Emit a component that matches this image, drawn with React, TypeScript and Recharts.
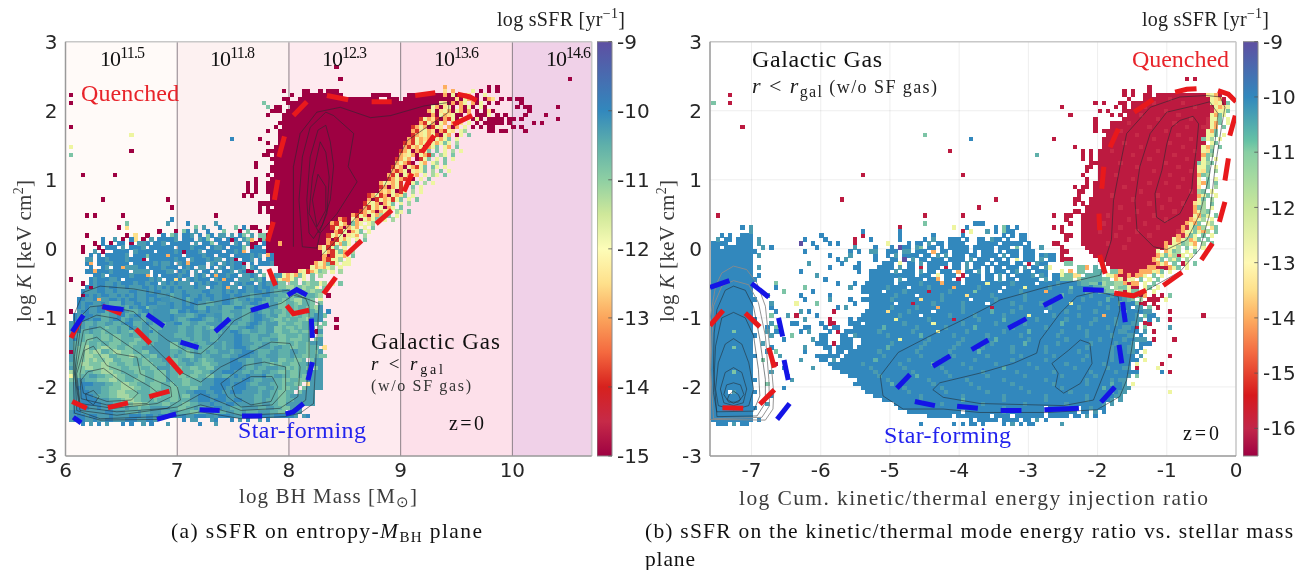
import { CartesianGrid, ComposedChart, ReferenceArea, ReferenceLine, Scatter, XAxis, YAxis } from 'recharts'

type Pts = number[][]

// cell colours, one letter per sSFR bin
const cellColors: Record<string, string> = {
  d: '#9e0142', e: '#bc1a40', f: '#c72a48', r: '#d8322a', o: '#fdae61', w: '#fee08b', y: '#eef5a0',
  h: '#a5d7a2', g: '#7cc4a6', a: '#5fb0aa', t: '#4a9bb0', c: '#3f93b5', b: '#3288bd', p: '#5e4fa2',
}

// rows of the 2d histograms, top to bottom. "@n" jumps to column n, "3b" is three cells of b,
// "." clears a cell, and later cells overwrite earlier ones
const leftCells = [
  '@66d', '', '', '@67d@124d', '', '@93o@104d.d',
  '@53d@58 2d@62 d.3d@93w.o@100y.d@104d.d',
  '@0d@55d@58 10d@75 5d@84 9dodyd.ow.d.y',
  '@53 2d@57 20d@79 3d@83 13dwdyoyd.dow.d.d.2d',
  '@0d@48g@54 38dywdodoy.ody.d.d@112d',
  '@49g.2d@55 35dyodwyd.odyd.yd@111d.2d@121d',
  '@50 3d@54 35doydwyodyodo.d.dwd@114d',
  '@49d@53 37dodyowy2d.o.3dy.d.d@113d@118d',
  '@53 34dryowrdorydyo.dyd.4d.2d.d@121d',
  '@52 35doryodyo.odw.y.d.5d.d@115d.d',
  '@0d@51d@53 32droyodryw.odo.y.d.d.2d@110d.d',
  '@49d@52 33dorwyowdoryw.yh@104 2d.2d@113d',
  '@15y@52 33drowyoyrdyo.dy.g',
  '@40b@47d@52 32doryowodyoyg.y',
  '@49d@52 31droryoydyoygy.h',
  '@0y@51d@52 31dorwoydoyg.yo.g',
  '@15d@49 2d@51 31droydoryg.g.y.h.y',
  '@0g@48 2d@51 31dowyodyorg.hy.g',
  '@50d@51 30droyo.dryg.y.g.y',
  '@46d@51 30doyord.yo.yh.g',
  '@46d@50 2d@52 28drwodyoryg.gy.y',
  '@50 3d@53 27doroydywyg.h.g.y',
  '@3d@11d@49d@51 28dorydyowo.y.hy.g',
  '@46d@50 29droyoryd.y.g',
  '@44d.d@49d@50 27doywoyr.dyg.h.y',
  '@44d.d@49 28drodoyry.g.y',
  '@44d.d@49 28dowoydry.h.y',
  '@43d.d@50 24droyrodyowg.y',
  '@8d@24d@50 24dodryowryg.y.g',
  '@47 3d@50 23drwyodoyg.y.h',
  '@25d@47d@49d.22doryoydoy.g',
  '@47d@49 23droyodoyw.hy.g',
  '@4d.d@13d@36d@50 20doryodyoh.g.y',
  '@25b@50 17dordyodyoyg.y.h',
  '@14g@24t@29b@36t@50 15doryodgoy.yh',
  '@12d.w@31g.t@37b@41g.b@45 2d@49 16dryodoyo.y.g',
  '@22d@26d.gb.t@34b@38g@42d.g@47d@50 16dorydoyg.y',
  '@4d@14d.w@19d@23b.gt.2bt.b.gb.2t.t.bg.t.2g@49 15dryoydwyo.h',
  '@8b@11t.d.bw.d.t.4bt.3b.tbg.2b.bdb.tgo.dg@49 15dodryoy.y.g',
  '@6d.b.d.2b.d.2tb.2bt.5b.t.2bg.3b.tb.t2d.b@49 3do@53 11doryogy.g',
  '@3d@7d.3b.t.3bt.6b.3bt3b.b2tb.3bg.d2b.d.b@49 13doyryg.y',
  '@3d@6t.d@11 4b.t4b.4btbd3bt.4b.2btbo.3b.ob.t@48b@49 14dyorygo.h',
  '@5b.b.5bt.3bg4bo3b.4bt2b.3b.4btbt.ob.2bt@51 12dodryyo.g',
  '@4 2t.2bt4bt3bd.6bt2b.t3btb2t.btd.2bt.b.2b@51 12doryyh.y',
  '@4bo.3bt4b.5btb2tb.tbo4b.tb.tbt2bd.b.3bt@51 10doyogry.yy',
  '@5b@8bt.2bo3t2b.3bt3b.btb.2t.b.tb.t2bt.tb@52 8dyowoyh.y',
  '@4 2bo3bt4b.4t.3b2t.btb.t.2b.t.2bt.tb2d.t@52 5dwyroygh.y.h',
  '@6 2bt.5bt3bo.b.4bt2b.tbt.bo2bt2b.2tbt.g.wt@51 2tyoyogy.g.h',
  '@0d@5bt3b2tb.6btbt.2bwb.tbt3b.tbo2b.3tgtab@50 2gy2oyg.y.g',
  '@3d.bt2b2tbt3bt2bt2b.t2b@25 tb3t.btbt2bt@38 2b.tbt2b.tb2t@50 tb2g.2g.gh2gyh.y.g',
  '@4bdt2bt2b2tb3t2btbtb2t@25 btb3tb2t.b3t@38 bo2t.b2tbt2b.t@50 2t2g2h2gh2gy.g',
  '@3b3t2b2tb3t2b2tbt2b3t@25 b2tb4t2b3t@38 btbt2b2t2bt2b@50 t2a2tg2a2gh2g',
  '@3dbtbt2b2tbtbtb2t3b2t@25 a2t2b2tbt2b3t@38 2bt2b2ta2t2bt@50 2t2a2g2ag2agh.d',
  '@2 2b2tbo2t2btbt2b2tbt2b@25 3tbat2b2tb3t@38 2bta2tbt2bta@50 t2agag2h2ag.y',
  '@2bt2b2tbt3ab2t2bt3b2t@25 b2tbt2b2t2a2t@38 2bt2a2t2bt2a@50 2t2g2agh2ag.g',
  '@2btb2t2b2t2btabt2bg2t@25 b2t3bt2ab2t@38 3a2bt2at2bta@50 2t2g2ag2a2gh',
  '@0d.t2b2t2ba2t2bt2at2bt@25 2a2bt2b2tb3t@38 2a3t2atbt2a@50 t2ag2ag2h2ag@64b',
  '@1b2t2b2t2a2t2bat2ba2t@25 b3t2at2b2t@38 3a2t2at2bta@50 2t2ga2ga2ga@63g',
  '@1bt2bt2b2at2batb2ta2t@25 bt2at3bt2at@38 2a3t2at2b2t@50 a2gag2a2gh@66d',
  '2tbt2at2a2t2at2b2atbt3a@25 t2b2a2t2a2t@38 2a2t2at2bta@50 2t2g2a2g2a2g.g',
  't2bta2t2ag2at2abta2t3a@25 2t2a2t2atag@38 2t2a2t2bt2a@50 t2ga2gag2ag.g@66d',
  '2tb2at2ag3at2ag2a2tba@25 2t2a2t2a2t3a@38 2t2bt2a2t2a@50 t2g2a2ga2g.d',
  '2t2a2g2a2ga2g2at2a2t2a@25 t3a2t2a2t2a@38 3t2b2t2a2t@50 2a2g3ag2ag.g',
  'tb2a2g2a2ga2g3a2gat2a@25 3t2at2a2t2a@38 3t2b2t2at2a@50 2t2ga3g2a.g',
  't2a2g2ag2a3g2a2g2ata@25 2g2t2at2a3t@38 a2t2b3t2a2t@50 2a2g2ag2ag',
  'ta2gh2ag2h2g2a2g2a2t@25 2gat2a2t3a2t@38 a2t3bt2a2t@50 a2t2a2g2ag2a.w',
  'da2ghg2h2ag2h3g2a2g@25 2atagat2at2a@38 2ta2t3bt3a@50 2t3a2t2agag',
  'ta2g2h2g2h2a3gh2g2a2g@25 at2a2g2t2a3t@38 2a2t3b2t2a@50 2t3at2a2g2a2g',
  'ta2ghgh2g2h2a3g2a2g3a@25 2ga2tatag2a@38 2t2b2t2a2t2a@50 2t2g2a2ga.g',
  '2ag2h3g2h2g2a2g2a3g3a@25 2g2a2t2a2g2a@38 2t3bt2a2t2a@50 gag2a2g2a',
  'ta2g2h2g2h3g2a3g2a2g@25 a2g2a2g2a2g@38 2t3bt2at2a@50 2t2agag2ag.g',
  'ha2g2a2g3h2g3a3g2a3g@25 2ag3a2g2a2t@38 3b2t2at2a@48 2t2a2ga2g2a',
  'yag2a2t2a2gh2g3a2g2a3g@25 2a2ga2g2a2g@38 2atb2tb3tbt@49 2a2t2a2ga2g',
  'ga2t3a3g2h2g2a3g2a3g@25 3a2g3a2t@36 4b3t2bt2a@49 2t2a2g2a2g',
  'a2t3b3t2a2g2h2g3a3g2a@25 g2a2g3a2t@36 4bt3bt2a@48 2t3ag2a2g.w',
  'at2b4t2a3g3h2g2a3g2a@25 2g3a2g2t@35 4b2t3bt@47 2a2t2a2g2a.g',
  'a2t2b3t2a2g2h3g3a2g3a@25 2g2a2t3bt@36 2b2t3bt@47 a2t2a2g2a.g',
  'a2t3bt3a2g3h3g2a3g2a@25 2ga2g2t3b@35 2t2b4t@46 2a2t2a2ga',
  'a2t4b3t3ag2h2g3ag3a@25 2g3a2t3bt@36 3b2t2bt@46 2at3a2g2a',
  'a2t5b3t3a2g2h2g3a3g@25 3a2g2a3t2b@36 3t2b2t@46 2a2t2a2g',
  'at3b2tb3t3at2ag2a3t@25 2a2g2at2a3t@36 2b2t3a@44 3t2a2t2a2g',
  't2b6t2b3t3at2a3t2a@25 2t3a2g2a2t@36 3a2t2at3a@48 2t2a2g.g',
  '2t2bt2b3tb4t3bt2bt2bt@28b2t3b@36 t3b@41 2t2b2t@48 2bt5bt.tb',
  't3b2tb2t2b3t3b2t2bt@28b.2t@35 tb@40 b.t.b@47 t.b',
  '@3b.t.b.t@13b.b@18t.b@24t@32b@36t',
]

// filled stretches under the left rows, so the body has no gaps: first row, last row, first col, last col, letter
const leftBodyFill = [
  [54, 57, 4, 62, 'c'], [58, 60, 2, 62, 'c'], [61, 63, 1, 62, 'c'], [64, 80, 0, 62, 't'], [81, 84, 0, 60, 't'], [85, 86, 0, 57, 't'], [87, 87, 0, 54, 'c'],
] as [number, number, number, number, string][]

const rightCells = [
  '', '', '', '@114e.e', '', '@105e', '@99e.e@105e',
  '@4e@99e.e@104 2e@107 12e@119 wyoe',
  '@100e@104 16e@120 ywoe@110f',
  '@0g@4e@92e.e@98 2e@101 19e@120 ywyeg@106f@113f',
  '@84e@97e.e@101 19e@120 fyowy@104f@116f',
  '@93e.e@99 3e@102 18e@120 fw2yg@109f',
  '@86e@96e.e@100 20e@120 yogy@103f@112f',
  '@92e@99 2e@101 19e@119 f2yg.y@107f@115f',
  '@92e@96 23e@119 fyog.y@100f@111f',
  '@7e@92e@96 22e@118 2fyo.g@105f@114f',
  '@92e.e@95 23e@118 eyog@98f@109f',
  '@51g@95 23e@118 e2yg.y@102f@112f',
  '@62b@82e@94 24e@118 gyh.y@106f@115f',
  '@94 24e@118 e.yg@99f@110f',
  '@87e@94 24e@118 yoh.g@103f@113f',
  '@57e@89e.e.e@94 24e@118 ywg@96f@107f@116f',
  '@78a@89e.e@93 25e@118 ogh@101f@111f',
  '@89e.e.e@93 25e@118 yg.y@105f@114f',
  '@91 2e@93 24e@117 gyhg@98f@109f',
  '@90 2e.e@93 24e@117 2yg.y@102f@112f',
  '@90e@93 24e@117 ywg.h@106f@115f',
  '@36e@60e@89e@93 24e@117 ogh@97f@110f',
  '@90e@93 24e@117 y.g.y@101f@113f',
  '@90e@92 25e@117 yog.g@105f@109f',
  '@87e@89 2e@92 25e@117 w.g.h@99f@112f',
  '@88 2e@92 25e@117 hg.y@103f@115f',
  '@88e@92 25e@117 oyg.y@96f@107f',
  '@31e@68e@87 2e@91 26e@117 yg.h@101f@110f',
  '@87e.e@91 25e@116 wyh.g@105f@113f',
  '@64e@90 26e@116 ogh.y@98f@108f',
  '@87 2e@90 26e@116 oyhg@102f@111f',
  '@1e@51e@60e@82e@85 2e@89 27e@116 yogy.g@95f@106f',
  '@85e@89 26e@115 owyh.y@100f@109f',
  '@51g@63 3b@86e@89 25e@114 oyog.yh@94f@104f',
  '@7b.t@45e@58y@61b@68b.gb.b@82e.e@89 24e@113 ofygoh.wg@98f@107f',
  '@9t@36b@45b@60e.y@66t.b.g2b@84e@89 23e@112 fo2ygyoh.g@93f@102f',
  '@2b.b@7 3b@26b@36e@45b@53b@60b@70b.b.2b@85 2e@89 22e@111 eofwgy.g.y@97f@105f',
  '@1t@3 2b.b@6 4b.t@22b@27b@34e@38b@45b@51b.t@57 3b.b@64 2b.t2b.b@74 2b@85e@89 21e@110 eyoyhoyg.g@100f',
  '@0 4b@6 4b@11t@21p@24b@28b.b@34e@42y@47b@49 2b.t@54 2b@57 4b@64 5b.2b@72 3b.b@82 2e@89 20e@109 oeywghyo.h.g@95f',
  '@0 2b.2b@5 5b@12t.b@25b@34t@39b@43b.p@46 2b.tg.2b.t@55b.5b.b@63 5b.3b.g.2b@79t@84e@90 18e@108 eo2yh.g.y.y@99f',
  '@0 11b@22b@33b.b@38 2t@42 3b.2t.3b.o.2b.4b.b.3b.b.3b.t@75 3b@84 2e@91 16e@107 y.oygh.y.g',
  '@0 10b.t@28b@33t@39b@42b.t.4b.2b.t.t.3b.2b.4b.t.2b.3b.b.2b@80t@84e@92 14e@106 eoygwhey.y',
  '@0 10b@30b.t@39b@43 2b.p.t.2b.3b.4b.t.3b.2b.b.y.3b.t.2b.e@85 2e@93 12e@105 eoyg.hyg.h',
  '@0 10b@23t@31b@35b@41 3b.y.2b.t.5b.2b.t.3b.b.3b.2b.e.t2b@85 2g@95 9e@104 3eoyo.g.ey.g',
  '@0 10b.t@28b@34 2b@40 4b.t.2b.e.3b.e.2b.t.2b.b.2b.3b.t.2b.ty@88 2go.a.g@96 9e@105 2o3eoyg.y',
  '@0 10b@21b@35b@38 5b.t.3b.t.2b.3b.o.2b.t.b.3b.bt.2b.3b@84y@86o.2g@92 2a@96 2go4e3oywg.y',
  '@0 10b.b@25t@38 11b.3b.y.3b.e.3b.2b.t.b.4bt.tb.2by@85 2g2w.2a@92 2a.2yo2eoe2oy.g.y',
  '@0 11b@27b@38 6b.t.4b.2bo.2b.e.4b.2b.t.2b.5b.t.2bg@84 3g.h2a@91 3a2g.oye2y.g.y.g',
  '@0 10b@15g@30b@34b@37 58b@44.@50t@55o@60.@66y@72t@78.@83t@88 t2a2g@94 h2g2hoe2o.y.g',
  '@0 10b@15b@22g@33t@36 60b@42t@47.@52t@58o@64t@70.@75y@81t@86g@92 2a2g.h2gy2e.yg.y',
  '@0 10b@17g@24b@36 62b@41.@46t@52e@57t@63g@69.@74t@80o@86t@90 2a@93 2a2g.2h@99 ey2g.w.y',
  '@0 10b@13t@21b@28b@38 62b@44t@49.@55t@61w@67t@75t@84a@91t@96t@99 2a2g@103 eo.e.e.g',
  '@0 11b@22b@28t@33b@36 67b@43t@50w@55t@62.@68t@75t@82.@89t@95a@99 tag.h@105 e2e.y',
  '@0 10b@14t@20y@25g@34b@38 65b@44.@48e@53t@60t@66.@72t@79t@86y@93t@98a@102 g2e.e',
  '@0 10b@14b@30b.t@38 65b@43t@49t@54o@60t@67e@74t@81t@88t@95t@100 b.t@103 t.g.e',
  '@0 10b@15b@21t.b@29e@37 66b@42w@47t@53.@60t@67a@72t@80.@85t@92t@99g@103 b2t@110e',
  '@0 10b@14g@18t.e@25b@36 66b@45t@50.@57t@63t@70t@76y@82t@88t@94o@102 t.g2b@118e',
  '@0 11b@22t@28e@33b.2b@37 65b@44y@52t@58e@64t@70a@78t@85t@92t@97t@102 2t.b.t@110e',
  '@0 10b@14t.y@19 2b@26b.2e@33 3b@37 64b@46t@53y@60t@68t@75t@84a@91t@97t@101 2t.2e',
  '@0 10b@13b.g@22 2b@27b.2b@34 68b@41a@49t@56t@63a@72t@80t@88t@95t@99 2t@102 e.g@110t',
  '@0 5bg4b@13t.2b@21b.t@28b.e@32 70b@40t@48t@54y@61t@70t@76a@84t@90t@98 2t@101 2b.t.e',
  '@0 11b@14t@19g@26 2b@31 2b.t@35 67b@42t@50a@58t@66t@74t@83t@90t@96t@100 2t.b',
  '@0 10b@17b@24t.2b@31 3b@36 66b@45y@52t@60t@68a@76t@85t@93t@99t@102 3t.e@111e',
  '@0 10b@12t@25 3b.e.3b@36 65b@43t@51t@59t@67t@75a@83t@91t@97t@101 t.3b',
  '@0 5bg4b@14b@22t@27 2b.4b@35 65b@42a@50t@58t@65t@72t@80t@90t@96t@100 2t.b',
  '@0 10b@13b.g@22b@28b.2b.70b@40t@49t@57t@64a@72t@80t@88t@96t@100 2t@104y',
  '@0 11b@16t@25 6b.2b@34 67b@41t@50t@58t@66t@74t@82t@90t@96t@99 3b.t@110e',
  '@0 10b@12g@21t@26 2b.t@31 72b@39a@47t@55t@63t@72t@80t@89t@96t@101 2b.y',
  '@0 10b@15e@28 75b@36t@45t@53a@60t@68t@76t@85t@94t@100 b.y@108e',
  '@0 10b@17b@24t@29 73b@38t@46t@55t@62t@70a@78t@87t@95t@99 2t.e@107y',
  '@0 5bg4b@14t@31 72b@39t@48t@56t@65t@73t@82t@91t@97t@108 b.e',
  '@0 10b@18t@33 69b@40t@49a@57t@66t@75t@84t@92t@100 t.g',
  '@0 11b@19t@35 65b@42t@52t@61t@70t@80t@90t@96t@98 2t',
  '@0 10b@13g@34 67b@43a@53t@62t@72t@82t@90t@96a@99 t.y',
  '@0 10b@17b@36 65b@46t@55t@64t@74t@84t@94a@99 2t',
  '@0 4b.t5b@37 63b@47t@56t@66t@76t@86t@96a@98 2t@110y',
  '@0 10b@14b@39 60b@50t@60t@70t@80t@90t@97 2t',
  '@0 10b@41 57b@50t@60a@70t@80t@90t@96t.t',
  '@0 10b@13t@44 52b@55t@65t@75t@85t@94t.t',
  '@0 11b@45 50b@60t@70t@80.@88.@91t',
  '@0 10b@47 45b@60.@70t@80.@88.@91.t.b',
  '@0 10b@52 6b.8b.4b.7b.5b.2b.t.b',
  '@0 10b.b@62b.5b.4b.2b.t.b',
  '@1 3b.t.2b@50b@58b.b.2b.b@70b.t.b.2b@84t',
]

const leftContours: Pts[] = [
  [[6.08, -2.38], [6.31, -2.48], [6.82, -2.47], [7.21, -2.36], [7.57, -2.46], [7.96, -2.43], [8.1, -2.38], [8.22, -2.24], [8.25, -1.32], [8.27, -0.79], [8.12, -0.7], [7.99, -0.6], [7.66, -0.67], [7.33, -0.77], [7.18, -0.81], [6.91, -0.67], [6.61, -0.58], [6.31, -0.54], [6.16, -0.63], [6.08, -0.94], [6.07, -1.81], [6.08, -2.38]],
  [[6.13, -0.99], [6.22, -0.84], [6.34, -0.82], [6.61, -0.91], [6.76, -1.13], [6.91, -1.32], [7.09, -1.49], [7.21, -1.52], [7.36, -1.32], [7.51, -1.04], [7.69, -0.89], [7.93, -0.79], [8.04, -0.67], [8.15, -0.72], [8.18, -0.84], [8.18, -1.56], [8.15, -2.19], [7.99, -2.38], [7.57, -2.41], [7.21, -2.26], [6.85, -2.43], [6.31, -2.46], [6.1, -2.34], [6.08, -1.56], [6.13, -0.99]],
  [[6.14, -1.06], [6.28, -0.96], [6.46, -1.01], [6.67, -1.23], [6.85, -1.52], [7.0, -1.76], [7.21, -1.93], [7.39, -1.71], [7.63, -1.52], [7.84, -1.35], [8.01, -1.37], [8.1, -1.71], [8.08, -2.14], [7.92, -2.31], [7.57, -2.34], [7.21, -2.1], [7.0, -2.29], [6.46, -2.41], [6.13, -2.34], [6.08, -1.81], [6.14, -1.06]],
  [[6.16, -1.18], [6.31, -1.13], [6.49, -1.32], [6.67, -1.52], [6.82, -1.73], [7.0, -2.0], [7.03, -2.19], [6.91, -2.31], [6.46, -2.36], [6.13, -2.29], [6.09, -1.81], [6.16, -1.18]],
  [[6.19, -1.32], [6.28, -1.28], [6.46, -1.52], [6.64, -1.57], [6.67, -1.81], [6.94, -2.0], [6.95, -2.14], [6.82, -2.24], [6.43, -2.31], [6.13, -2.24], [6.1, -1.81], [6.19, -1.32]],
  [[6.17, -1.47], [6.25, -1.41], [6.37, -1.69], [6.52, -1.78], [6.76, -2.0], [6.83, -2.09], [6.73, -2.24], [6.37, -2.26], [6.14, -2.17], [6.13, -1.81], [6.17, -1.47]],
  [[6.2, -1.78], [6.34, -1.73], [6.52, -1.95], [6.65, -2.09], [6.59, -2.19], [6.37, -2.21], [6.16, -2.09], [6.14, -1.9], [6.2, -1.78]],
  [[6.25, -2.05], [6.3, -2.14], [6.25, -2.26], [6.19, -2.19], [6.18, -2.1], [6.25, -2.05]],
  [[7.49, -2.0], [7.66, -1.85], [7.85, -1.85], [7.9, -2.0], [7.84, -2.21], [7.66, -2.26], [7.52, -2.14], [7.49, -2.0]],
  [[7.39, -1.95], [7.6, -1.69], [7.78, -1.64], [7.97, -1.71], [7.97, -2.05], [7.85, -2.26], [7.57, -2.29], [7.45, -2.14], [7.39, -1.95]],
  [[8.04, 0.03], [8.04, 1.19], [8.1, 1.67], [8.25, 1.98], [8.46, 2.05], [8.73, 1.9], [8.91, 1.93], [9.21, 2.07], [9.43, 2.12], [9.43, 1.98], [9.06, 1.57], [8.85, 0.9], [8.58, 0.42], [8.4, 0.08], [8.28, -0.11]],
  [[8.12, 0.03], [8.09, 0.71], [8.12, 1.33], [8.19, 1.76], [8.33, 1.98], [8.4, 1.93], [8.58, 1.67], [8.53, 1.19], [8.61, 0.97], [8.43, 0.51], [8.28, 0.23], [8.25, 0.01], [8.12, 0.03]],
  [[8.18, 0.23], [8.16, 0.71], [8.19, 1.33], [8.26, 1.72], [8.33, 1.79], [8.37, 1.55], [8.4, 1.2], [8.37, 0.71], [8.3, 0.35], [8.22, 0.15], [8.18, 0.23]],
  [[8.28, 1.55], [8.21, 1.04], [8.18, 0.51], [8.27, 0.23], [8.34, 0.51], [8.36, 1.04], [8.33, 1.4], [8.28, 1.55]],
  [[8.26, 1.08], [8.21, 0.71], [8.25, 0.32], [8.33, 0.56], [8.33, 0.9], [8.26, 1.08]],
]

const rightContours: Pts[] = [
  [[-0.23, 2.2], [-0.16, 2.05], [-0.21, 1.76], [-0.3, 1.19], [-0.38, 0.51], [-0.52, 0], [-0.81, -0.33], [-1.29, -0.6], [-1.37, -0.69], [-1.48, -1.27], [-1.58, -1.9], [-1.68, -2.14], [-2.01, -2.33], [-2.73, -2.37], [-3.7, -2.37], [-4.23, -2.32], [-4.81, -2.32], [-5.1, -2.13], [-5.14, -1.84], [-4.88, -1.5], [-4.38, -1.24], [-3.85, -0.98], [-3.56, -0.83], [-3.41, -0.74], [-2.73, -0.55], [-2.25, -0.45], [-1.96, -0.38], [-1.8, 0.13], [-1.77, 0.7], [-1.65, 1.33], [-1.58, 1.67], [-1.24, 2.05], [-0.81, 2.2], [-0.42, 2.22], [-0.23, 2.2]],
  [[-0.57, 2.08], [-1, 1.98], [-1.24, 1.67], [-1.39, 1.19], [-1.46, 0.7], [-1.43, 0.27], [-1.19, 0.03], [-1, -0.01], [-0.71, 0.13], [-0.52, 0.51], [-0.38, 1.09], [-0.3, 1.57], [-0.26, 1.96], [-0.38, 2.13], [-0.57, 2.08]],
  [[-0.81, 1.86], [-0.62, 1.92], [-0.54, 1.81], [-0.57, 1.47], [-0.62, 1.09], [-0.64, 0.85], [-0.81, 0.51], [-1.03, 0.38], [-1.15, 0.46], [-1.17, 0.8], [-1.07, 1.14], [-1, 1.52], [-0.93, 1.76], [-0.81, 1.86]],
  [[-3.7, -1.8], [-3.22, -1.66], [-2.88, -1.51], [-2.83, -1.32], [-2.54, -0.93], [-2.3, -0.69], [-2.01, -0.62], [-1.7, -0.69], [-1.68, -0.89], [-1.77, -1.22], [-1.87, -1.71], [-2.06, -2.19], [-2.49, -2.27], [-3.7, -2.24], [-4.23, -2.15], [-4.38, -2.04], [-4.28, -1.94], [-3.7, -1.8]],
  [[-2.66, -1.66], [-2.57, -1.8], [-2.61, -2.0], [-2.49, -2.09], [-2.25, -1.95], [-2.08, -1.66], [-2.11, -1.37], [-2.25, -1.32], [-2.42, -1.47], [-2.66, -1.66]],
  [[-7.5, -0.88], [-7.38, -0.6], [-7.26, -0.54], [-7.09, -0.6], [-6.97, -0.84], [-6.88, -1.31], [-6.8, -1.89], [-6.8, -2.23], [-6.92, -2.42], [-7.5, -2.43], [-7.55, -1.75], [-7.54, -1.22], [-7.5, -0.88]],
  [[-7.43, -1.0], [-7.26, -0.92], [-7.09, -1.0], [-6.97, -1.26], [-6.9, -1.75], [-6.88, -2.13], [-6.97, -2.35], [-7.5, -2.36], [-7.55, -2.08], [-7.52, -1.41], [-7.43, -1.0]],
  [[-7.38, -1.38], [-7.26, -1.3], [-7.14, -1.38], [-7.04, -1.65], [-6.97, -2.03], [-7.04, -2.27], [-7.26, -2.33], [-7.48, -2.27], [-7.52, -2.03], [-7.48, -1.65], [-7.38, -1.38]],
  [[-7.38, -1.79], [-7.26, -1.72], [-7.14, -1.79], [-7.07, -2.03], [-7.12, -2.23], [-7.26, -2.27], [-7.4, -2.23], [-7.45, -2.03], [-7.38, -1.79]],
  [[-7.36, -1.97], [-7.26, -1.94], [-7.16, -1.97], [-7.11, -2.11], [-7.19, -2.22], [-7.33, -2.22], [-7.4, -2.11], [-7.36, -1.97]],
  [[-7.32, -2.11], [-7.26, -2.06], [-7.19, -2.11], [-7.16, -2.18], [-7.26, -2.24], [-7.35, -2.18], [-7.32, -2.11]],
]

const rightGrayContours: Pts[] = [
  [[-7.6, -2.47], [-7.6, -1.02], [-7.52, -0.54], [-7.43, -0.35], [-7.26, -0.25], [-7.07, -0.3], [-6.92, -0.5], [-6.8, -0.83], [-6.73, -1.5], [-6.68, -2.08], [-6.69, -2.32], [-6.8, -2.48], [-7.6, -2.47]],
  [[-7.55, -0.83], [-7.43, -0.54], [-7.26, -0.46], [-7.04, -0.52], [-6.9, -0.78], [-6.8, -1.26], [-6.75, -1.89], [-6.74, -2.27], [-6.85, -2.44], [-7.55, -2.46], [-7.59, -1.75], [-7.55, -0.83]],
]

const leftBlueDashes: Pts[] = [
  [[6.07, -2.44], [6.14, -2.52]], [[6.82, -2.47], [6.99, -2.39]], [[7.2, -2.33], [7.38, -2.34]], [[7.58, -2.42], [7.76, -2.42]],
  [[7.97, -2.39], [8.04, -2.36], [8.13, -2.24]], [[8.17, -1.9], [8.21, -1.64]], [[8.21, -1.29], [8.2, -1.01]],
  [[8.16, -0.67], [8.07, -0.59], [7.99, -0.67]], [[7.82, -0.81], [7.66, -0.89]], [[7.47, -1.01], [7.34, -1.2]],
  [[7.19, -1.43], [7.03, -1.35]], [[6.88, -1.12], [6.73, -0.95]], [[6.52, -0.88], [6.33, -0.84]], [[6.16, -0.96], [6.06, -1.2]],
]

const leftRedDashes: Pts[] = [
  [[6.05, -1.29], [6.13, -1.04]], [[6.33, -0.83], [6.5, -0.94]], [[6.63, -1.16], [6.76, -1.37]], [[6.91, -1.57], [7.04, -1.81]],
  [[6.93, -2.06], [6.75, -2.14]], [[6.56, -2.23], [6.38, -2.3]], [[6.19, -2.31], [6.06, -2.21]],
  [[7.98, -0.82], [8.04, -0.94], [8.18, -0.89]], [[7.88, -0.53], [7.82, -0.29]], [[7.81, 0.11], [7.86, 0.39]], [[7.87, 0.71], [7.9, 1.0]],
  [[7.91, 1.33], [7.96, 1.63]], [[8.04, 1.93], [8.16, 2.13]], [[8.34, 2.22], [8.53, 2.16]], [[8.74, 2.13], [8.92, 2.13]],
  [[9.13, 2.22], [9.31, 2.26]], [[9.51, 2.24], [9.62, 2.2], [9.68, 2.15]], [[9.64, 1.93], [9.47, 1.8]], [[9.3, 1.64], [9.19, 1.4]],
  [[9.1, 1.09], [9.03, 0.83]], [[8.92, 0.56], [8.78, 0.36]], [[8.65, 0.12], [8.51, -0.09]], [[8.42, -0.41], [8.31, -0.65]],
]

const rightRedDashes: Pts[] = [
  [[-0.88, 2.27], [-0.71, 2.31], [-0.57, 2.32]], [[-0.26, 2.29], [-0.11, 2.24], [0, 2.13]], [[-0.01, 1.93], [-0.09, 1.64]], [[-0.11, 1.31], [-0.16, 0.99]],
  [[-0.16, 0.68], [-0.24, 0.39]], [[-0.34, 0.08], [-0.5, -0.16]], [[-0.78, -0.34], [-1.05, -0.53]], [[-1.3, -0.6], [-1.48, -0.68], [-1.76, -0.64]],
  [[-1.89, -0.36], [-1.97, -0.09]], [[-1.97, 0.27], [-1.98, 0.51]], [[-1.94, 0.87], [-1.91, 1.19]], [[-1.82, 1.47], [-1.7, 1.74]], [[-1.47, 1.98], [-1.2, 2.16]],
  [[-7.6, -1.11], [-7.41, -0.89]], [[-7.09, -0.93], [-6.88, -1.13]], [[-6.75, -1.43], [-6.67, -1.72]], [[-6.67, -2.04], [-6.88, -2.25]], [[-7.12, -2.31], [-7.42, -2.3]],
]

const rightBlueDashes: Pts[] = [
  [[-7.6, -0.56], [-7.32, -0.46]], [[-7.0, -0.5], [-6.75, -0.7]], [[-6.61, -1.0], [-6.55, -1.27]], [[-6.53, -1.61], [-6.47, -1.9]], [[-6.45, -2.24], [-6.63, -2.47]],
  [[-4.9, -2.02], [-4.71, -1.82]], [[-4.64, -2.21], [-4.35, -2.27]], [[-4.03, -2.28], [-3.73, -2.31]], [[-3.4, -2.34], [-3.1, -2.34]], [[-2.77, -2.33], [-2.27, -2.31]],
  [[-1.95, -2.22], [-1.75, -2.0]], [[-1.65, -1.66], [-1.69, -1.39]], [[-1.6, -1.06], [-1.64, -0.77]], [[-1.91, -0.6], [-2.21, -0.59]], [[-2.51, -0.68], [-2.78, -0.82]],
  [[-3.03, -1.01], [-3.29, -1.15]], [[-3.58, -1.32], [-3.82, -1.46]], [[-4.13, -1.55], [-4.38, -1.7]],
]

const leftBands = [[6, 7, '#fffaf8'], [7, 8, '#fdf1f1'], [8, 9, '#feeaef'], [9, 10, '#fde0ea'], [10, 10.71, '#f0d1e8']] as [number, number, string][]
const leftBandLines = [7, 8, 9, 10]
const yTicks = [-3, -2, -1, 0, 1, 2, 3]
const leftXTicks = [6, 7, 8, 9, 10]
const rightXTicks = [-7, -6, -5, -4, -3, -2, -1, 0]
const leftBarTicks = [-15, -14, -13, -12, -11, -10, -9]
const rightBarTicks = [-16, -15, -14, -13, -12, -11, -10, -9]
const leftBarStops = [[-9, '#5e4fa2'], [-10, '#3288bd'], [-10.5, '#5fb0aa'], [-11, '#8ecfa3'], [-11.5, '#cfe89a'], [-12, '#fdfdb8'], [-12.5, '#fee08b'], [-13, '#fba55c'], [-13.5, '#f4693f'], [-14, '#d7211e'], [-14.5, '#c62a48'], [-15, '#9e0142']] as [number, string][]
const rightBarStops = [[-9, '#5e4fa2'], [-10, '#3288bd'], [-10.8, '#66c2a5'], [-11, '#88cfa4'], [-12, '#c9e79b'], [-13, '#fff9b4'], [-13.5, '#fee08b'], [-14, '#fdae61'], [-14.6, '#f46d43'], [-15.4, '#d7191c'], [-16, '#c2274a'], [-16.5, '#9e0142']] as [number, string][]

const tickStyle = { fontFamily: 'DejaVu Sans', fontSize: 20, fill: '#262626' }
const serif = 'Liberation Serif'

// expand the run-length rows into one point list per colour
function decodeCells(rows: string[], x0: number, dx: number, y0: number, dy: number, fill: [number, number, number, number, string][] = []) {
  const groups: Record<string, { x: number; y: number }[]> = {}
  rows.forEach((row, r) => {
    const cols = new Map<number, string>()
    for (const [r0, r1, c0, c1, k] of fill) {
      if (r >= r0 && r <= r1) for (let c = c0; c <= c1; c++) cols.set(c, k)
    }
    let col = 0
    for (const m of row.matchAll(/@(\d+)|(\d*)([a-z.])/g)) {
      if (m[1]) {
        col = Number(m[1])
        continue
      }
      const n = m[2] ? Number(m[2]) : 1
      for (let i = 0; i < n; i++) cols.set(col + i, m[3])
      col += n
    }
    cols.forEach((k, c) => {
      if (k !== '.') (groups[k] ||= []).push({ x: x0 + c * dx, y: y0 - r * dy })
    })
  })
  return groups
}

const toXY = (pts: Pts) => pts.map(([x, y]) => ({ x, y }))
const Cell = (p: any) => <rect x={p.cx - 2.1} y={p.cy - 2.1} width={4.2} height={4.2} fill={p.fill} shapeRendering="crispEdges" />
const NoDot = () => null

function curve(pts: Pts, key: string, stroke: string, strokeWidth: number, opacity = 1) {
  return (
    <Scatter
      key={key}
      data={toXY(pts)}
      line={{ stroke, strokeWidth, strokeOpacity: opacity }}
      shape={NoDot}
      isAnimationActive={false}
    />
  )
}

function Panel(props: any) {
  const { left, width, yWidth, right, domain, xTicks, cells, contours, gray, red, blue, bands, lines } = props
  return (
    <div style={{ position: 'absolute', left, top: 0 }}>
      <ComposedChart width={width} height={500} margin={{ top: 41.7, right, left: 0, bottom: 14 }}>
        <XAxis type="number" dataKey="x" domain={domain} ticks={xTicks} allowDataOverflow interval={0} height={30} tickLine={false} tick={tickStyle} tickMargin={1} stroke="#9a9a9a" strokeWidth={1.5} />
        <YAxis type="number" dataKey="y" domain={[-3, 3]} ticks={yTicks} allowDataOverflow interval={0} width={yWidth} tickLine={false} tick={tickStyle} tickMargin={2} stroke="#9a9a9a" strokeWidth={1.5} />
        {bands?.map((b: [number, number, string]) => (
          <ReferenceArea key={b[0]} x1={b[0]} x2={b[1]} y1={-3} y2={3} fill={b[2]} fillOpacity={1} stroke="none" />
        ))}
        <CartesianGrid stroke="#000" strokeOpacity={0.07} />
        {lines?.map((x: number) => <ReferenceLine key={x} x={x} stroke="#8c8088" strokeWidth={1} />)}
        <ReferenceLine y={3} stroke="#c8c8c8" strokeWidth={1.5} />
        <ReferenceLine x={domain[1]} stroke="#c8c8c8" strokeWidth={1.5} />
        {Object.entries(cells).map(([k, pts]: any) => (
          <Scatter key={k} data={pts} fill={cellColors[k]} shape={Cell} isAnimationActive={false} />
        ))}
        {gray?.map((c: Pts, i: number) => curve(c, `g${i}`, '#8a8a8a', 0.9))}
        {contours.map((c: Pts, i: number) => curve(c, `c${i}`, '#222a2e', 0.8, 0.7))}
        {red.map((c: Pts, i: number) => curve(c, `r${i}`, '#e8191c', 5))}
        {blue.map((c: Pts, i: number) => curve(c, `b${i}`, '#1414e6', 5))}
      </ComposedChart>
    </div>
  )
}

function ColorBar({ left, id, domain, ticks, stops }: any) {
  const span = domain[1] - domain[0]
  return (
    <div style={{ position: 'absolute', left, top: 0 }}>
      <ComposedChart width={60} height={500} margin={{ top: 41.7, right: 0, left: 0, bottom: 44 }}>
        <defs>
          <linearGradient id={id} x1="0" y1="0" x2="0" y2="1">
            {stops.map(([v, c]: [number, string]) => <stop key={v} offset={(domain[1] - v) / span} stopColor={c} />)}
          </linearGradient>
        </defs>
        <XAxis type="number" dataKey="x" domain={[0, 1]} hide allowDataOverflow />
        <YAxis type="number" dataKey="y" orientation="right" domain={domain} ticks={ticks} interval={0} allowDataOverflow width={45} axisLine={false} tickLine={false} tickSize={0} tick={tickStyle} tickMargin={5} />
        <Scatter data={[{ x: 0, y: domain[0] }, { x: 1, y: domain[1] }]} shape={NoDot} isAnimationActive={false} />
        <ReferenceArea x1={0} x2={1} y1={domain[0]} y2={domain[1]} fill={`url(#${id})`} fillOpacity={1} stroke="#8a8a8a" strokeWidth={1} />
        {ticks.map((t: number) => <ReferenceLine key={t} segment={[{ x: 0.75, y: t }, { x: 1, y: t }]} stroke="#555" strokeWidth={0.8} />)}
      </ComposedChart>
    </div>
  )
}

// text squeezed to the width it has in the figure
function T({ x, y, w, size = 20, color = '#111', rotate, children }: any) {
  return (
    <text
      x={x}
      y={y}
      textLength={w}
      lengthAdjust="spacing"
      fontFamily={serif}
      fontSize={size}
      fill={color}
      transform={rotate ? `rotate(-90 ${x} ${y})` : undefined}
    >
      {children}
    </text>
  )
}

const Sup = ({ children, size = 14 }: any) => <tspan dy={-8} fontSize={size}>{children}</tspan>
const Sub = ({ children, size = 14 }: any) => <tspan dy={4} fontSize={size}>{children}</tspan>

const massLabels = [['11.5', 100], ['11.8', 210], ['12.3', 322], ['13.6', 434], ['14.6', 546]] as [string, number][]

function Labels() {
  const gray = '#3c3c3c'
  return (
    <svg width={1304} height={570} style={{ position: 'absolute', left: 0, top: 0, pointerEvents: 'none' }}>
      {massLabels.map(([m, x]) => (
        <T key={m} x={x} y={66} w={45} size={22}>10<Sup size={16}>{m}</Sup></T>
      ))}
      <T x={81} y={101} w={98} size={24} color="#e8232a">Quenched</T>
      <T x={371} y={349} w={129} size={23}>Galactic Gas</T>
      <T x={371} y={370} w={72} size={19}><tspan fontStyle="italic">r</tspan> &lt; <tspan fontStyle="italic">r</tspan><Sub size={14}>gal</Sub></T>
      <T x={371} y={391} w={100} size={16} color="#333">(w/o SF gas)</T>
      <T x={449} y={430} w={35} size={20}>z=0</T>
      <T x={238} y={438} w={128} size={24} color="#2222ee">Star-forming</T>
      <T x={239} y={503} w={178} size={21} color={gray}>log BH Mass [M<Sub size={15}>⊙</Sub><tspan dy={-4}>]</tspan></T>
      <T x={31} y={322} w={142} size={21} color={gray} rotate>log <tspan fontStyle="italic">K</tspan> [keV cm<Sup size={14}>2</Sup><tspan dy={8}>]</tspan></T>
      <T x={497} y={26} w={128} size={20} color="#222">log sSFR [yr<Sup size={14}>−1</Sup><tspan dy={8}>]</tspan></T>
      <T x={171} y={538} w={311} size={21.5}>(a) sSFR on entropy-<tspan fontStyle="italic">M</tspan><Sub size={15}>BH</Sub><tspan dy={-4}> plane</tspan></T>

      <T x={752} y={67} w={130} size={24}>Galactic Gas</T>
      <T x={752} y={93} w={185} size={22} color="#222"><tspan fontStyle="italic">r</tspan> &lt; <tspan fontStyle="italic">r</tspan><Sub size={16}>gal</Sub><tspan dy={-4} fontSize={18}>  (w/o SF gas)</tspan></T>
      <T x={1132} y={67} w={97} size={24} color="#e8232a">Quenched</T>
      <T x={884} y={443} w={127} size={24} color="#2222ee">Star-forming</T>
      <T x={1183} y={440} w={36} size={20}>z=0</T>
      <T x={739} y={505} w={469} size={21.5} color={gray}>log Cum. kinetic/thermal energy injection ratio</T>
      <T x={674} y={322} w={142} size={21} color={gray} rotate>log <tspan fontStyle="italic">K</tspan> [keV cm<Sup size={14}>2</Sup><tspan dy={8}>]</tspan></T>
      <T x={1142} y={26} w={127} size={20} color="#222">log sSFR [yr<Sup size={14}>−1</Sup><tspan dy={8}>]</tspan></T>
      <T x={645} y={538} w={648} size={21.5}>(b) sSFR on the kinetic/thermal mode energy ratio vs. stellar mass</T>
      <T x={645} y={566} w={50} size={21.5}>plane</T>
    </svg>
  )
}

const leftGroups = decodeCells(leftCells, 6.05, 0.036, 2.63, 0.058, leftBodyFill)
const rightGroups = decodeCells(rightCells, -7.55, 0.06, 2.63, 0.058)

export default function App() {
  return (
    <div style={{ position: 'fixed', left: 0, top: 0, width: 1304, height: 570, overflow: 'hidden', background: '#fff', filter: 'blur(0.4px)' }}>
      <Panel left={0} width={596} yWidth={65.5} right={4.3} domain={[6, 10.71]} xTicks={leftXTicks} cells={leftGroups} contours={leftContours} red={leftRedDashes} blue={leftBlueDashes} bands={leftBands} lines={leftBandLines} />
      <ColorBar left={597} id="barLeft" domain={[-15, -9]} ticks={leftBarTicks} stops={leftBarStops} />
      <Panel left={650} width={600} yWidth={60} right={14} domain={[-7.6, 0]} xTicks={rightXTicks} cells={rightGroups} contours={rightContours} gray={rightGrayContours} red={rightRedDashes} blue={rightBlueDashes} />
      <ColorBar left={1243} id="barRight" domain={[-16.5, -9]} ticks={rightBarTicks} stops={rightBarStops} />
      <Labels />
    </div>
  )
}
